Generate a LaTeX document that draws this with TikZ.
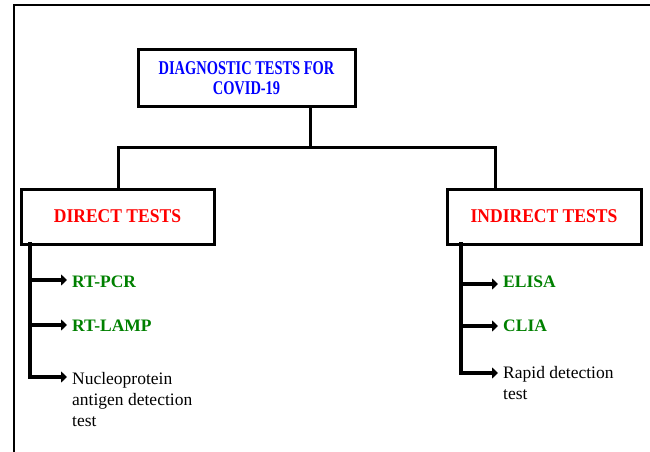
\documentclass[tikz,border=0pt]{standalone}
\usepackage{fontspec}
\setmainfont{Liberation Serif}
\newfontfamily\condfont[FakeStretch=0.74]{Liberation Serif}
\newfontfamily\headfont[FakeStretch=0.9]{Liberation Serif}
\usetikzlibrary{arrows.meta}
\definecolor{tblue}{RGB}{0,0,255}
\definecolor{tred}{RGB}{255,0,0}
\definecolor{tgreen}{RGB}{0,128,0}
\tikzset{
  box/.style={draw=black, line width=3pt, fill=white, inner sep=0pt, align=center},
  conn/.style={line width=3pt, line cap=rect},
  branch/.style={line width=4pt, line cap=rect},
  arr/.style={line width=4pt, -{Triangle[length=6pt,width=11pt]}},
  item/.style={inner sep=0pt, anchor=base west, font=\fontsize{17.5pt}{21pt}\selectfont},
  sub/.style={item, text=tgreen, font=\fontsize{17.5pt}{21pt}\selectfont\bfseries},
  head/.style={box, text=tred, font=\fontsize{19.5pt}{21pt}\selectfont\headfont\bfseries},
}
\begin{document}
\begin{tikzpicture}[x=1pt,y=1pt]
\useasboundingbox (0,0) rectangle (650,-452);
% frame
\draw[line width=2.5pt] (14,-452) -- (14,-5) -- (652,-5);
% top box
\node[box, minimum width=217pt, minimum height=56pt, text=tblue,
      font=\fontsize{19.5pt}{20pt}\selectfont\condfont\bfseries] (top) at (246.5,-78)
  {DIAGNOSTIC TESTS FOR\\COVID-19};
\node[head, minimum width=193pt, minimum height=55pt] (direct) at (117.5,-216.5) {DIRECT TESTS};
\node[head, minimum width=194pt, minimum height=55pt] (indirect) at (544,-216.5) {INDIRECT TESTS};
% junctions
\coordinate (jc) at (310,-147);
\coordinate (jl) at (118,-147);
\coordinate (jr) at (495,-147);
\draw[conn] (top.south -| jc) -- (jc);
\draw[conn] (jl |- direct.north) -- (jl) -- (jr) -- (jr |- indirect.north);
% left branch
\coordinate (l0) at (29.5,-244);
\coordinate (l1) at (29.5,-280);
\coordinate (l2) at (29.5,-325);
\coordinate (l3) at (29.5,-377);
\node[sub] (rtpcr) at (72,-287) {RT-PCR};
\node[sub] (rtlamp) at (72,-331) {RT-LAMP};
\node[item, anchor=north west, align=left] (nuc) at (72,-372)
  {Nucleoprotein\\antigen detection\\test};
\draw[branch] (l0) -- (l3);
\draw[arr] (l1) -- (l1 -| 67,0);
\draw[arr] (l2) -- (l2 -| 67,0);
\draw[arr] (l3) -- (l3 -| 67,0);
% right branch
\coordinate (r0) at (461,-244);
\coordinate (r1) at (461,-284);
\coordinate (r2) at (461,-326);
\coordinate (r3) at (461,-373);
\node[sub] (elisa) at (503,-287) {ELISA};
\node[sub] (clia) at (503,-331) {CLIA};
\node[item, anchor=north west, align=left] (rapid) at (503,-366)
  {Rapid detection\\test};
\draw[branch] (r0) -- (r3);
\draw[arr] (r1) -- (r1 -| 498,0);
\draw[arr] (r2) -- (r2 -| 498,0);
\draw[arr] (r3) -- (r3 -| 498,0);
\end{tikzpicture}
\end{document}
